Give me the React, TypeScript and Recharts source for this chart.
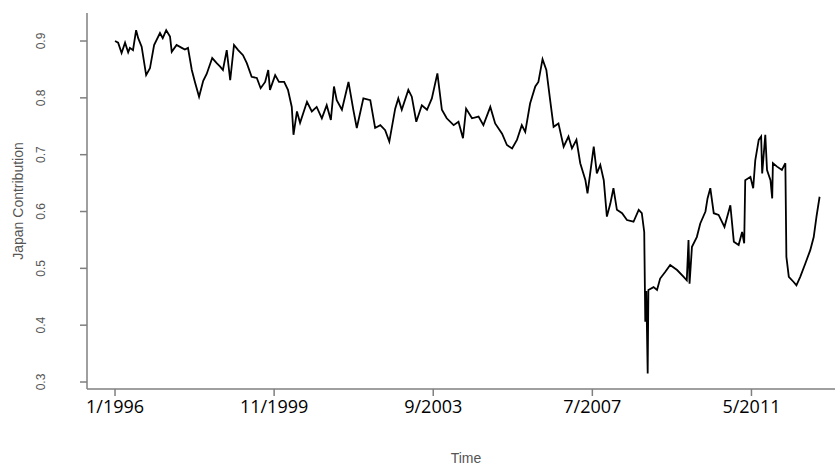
import React from "react";
import { LineChart, Line, XAxis, YAxis } from "recharts";

// months since 1/1996 (fractional) and the Japan contribution
const months = [
  0, 0.9, 1.9, 2.9, 3.8, 4.3, 5.2, 6.1, 6.7, 7.7, 9.0, 10.1, 11.3, 13.0, 13.8, 14.8, 15.9, 16.4, 17.8, 19.3,
  20.2, 21.1, 22.2, 23.1, 24.3, 25.5, 26.5, 28.1, 29.4, 30.4, 31.2, 32.3, 33.3, 34.4, 35.6, 37.0, 38.1, 39.5, 41.0, 42.1,
  43.4, 44.3, 44.8, 46.3, 47.4, 48.9, 50.0, 51.1, 51.6, 52.6, 53.5, 55.5, 56.9, 58.3, 59.8, 61.2, 62.4, 63.3, 64.1, 65.6,
  67.5, 68.9, 69.9, 71.8, 73.8, 75.2, 76.7, 78.1, 79.3, 81.0, 81.9, 82.9, 84.8, 85.8, 87.1, 88.7, 90.2, 91.6, 93.2, 94.5,
  95.9, 97.9, 99.3, 100.6, 101.5, 103.2, 105.1, 106.5, 108.5, 109.9, 111.9, 113.3, 114.8, 116.2, 117.6, 118.6, 120.0, 121.5, 122.4, 123.6,
  124.7, 125.8, 126.8, 128.2, 129.7, 131.1, 132.1, 133.4, 134.5, 136.0, 136.6, 138.4, 139.3, 140.3, 141.3, 142.2, 143.2, 144.1, 145.1, 146.6,
  148.0, 149.9, 151.4, 152.3, 153.0, 153.3, 153.6, 154.0, 154.2, 155.7, 156.7, 157.6, 159.1, 160.5, 162.5, 164.4, 165.3, 165.8, 166.1, 166.8,
  168.2, 169.2, 170.7, 171.3, 172.1, 173.1, 174.5, 176.2, 177.9, 178.9, 180.3, 181.3, 181.9, 182.2, 183.7, 184.5, 185.1, 186.1, 186.8, 187.1,
  188.0, 188.5, 189.5, 190.0, 190.2, 191.4, 192.8, 193.8, 194.1, 194.8, 196.2, 197.0, 198.1, 199.6, 201.0, 202.0, 202.8, 203.7,
];
const contribution = [
  0.900, 0.897, 0.879, 0.897, 0.880, 0.888, 0.884, 0.919, 0.905, 0.890, 0.840, 0.852, 0.893, 0.914, 0.905, 0.919, 0.908, 0.881, 0.893, 0.888,
  0.885, 0.888, 0.849, 0.828, 0.802, 0.830, 0.842, 0.870, 0.861, 0.855, 0.849, 0.884, 0.831, 0.893, 0.884, 0.875, 0.861, 0.837, 0.835, 0.817,
  0.828, 0.849, 0.814, 0.840, 0.828, 0.828, 0.814, 0.784, 0.735, 0.776, 0.756, 0.793, 0.776, 0.784, 0.764, 0.787, 0.761, 0.820, 0.796, 0.779,
  0.828, 0.779, 0.747, 0.799, 0.796, 0.747, 0.752, 0.743, 0.723, 0.781, 0.799, 0.779, 0.814, 0.802, 0.758, 0.787, 0.779, 0.799, 0.843, 0.779,
  0.764, 0.752, 0.758, 0.729, 0.781, 0.764, 0.767, 0.752, 0.784, 0.755, 0.737, 0.717, 0.711, 0.726, 0.752, 0.740, 0.790, 0.820, 0.828, 0.868,
  0.849, 0.796, 0.749, 0.755, 0.714, 0.732, 0.711, 0.726, 0.685, 0.655, 0.632, 0.714, 0.667, 0.682, 0.655, 0.591, 0.614, 0.641, 0.603, 0.597,
  0.585, 0.582, 0.603, 0.597, 0.564, 0.406, 0.460, 0.315, 0.462, 0.467, 0.462, 0.482, 0.494, 0.506, 0.497, 0.485, 0.479, 0.550, 0.473, 0.538,
  0.555, 0.579, 0.600, 0.623, 0.641, 0.597, 0.594, 0.573, 0.611, 0.547, 0.541, 0.564, 0.544, 0.655, 0.661, 0.641, 0.690, 0.726, 0.732, 0.667,
  0.735, 0.673, 0.655, 0.623, 0.685, 0.679, 0.673, 0.685, 0.520, 0.485, 0.476, 0.470, 0.485, 0.509, 0.532, 0.555, 0.591, 0.626,
];

const tickMonths = [0, 46, 92, 138, 184];
const tickLabels = ["1/1996", "11/1999", "9/2003", "7/2007", "5/2011"];
const yTicks = [0.3, 0.4, 0.5, 0.6, 0.7, 0.8, 0.9];

const data = months.map((t, i) => ({ t, v: contribution[i] }));

const frame = "#7f7f7f";

function XTick(props: any) {
  const { x, y, payload } = props;
  const i = tickMonths.indexOf(payload.value);
  return (
    <text x={x} y={y + 15} textAnchor="middle" fontFamily="'Open Sans', sans-serif" fontSize={18} fill="#000">
      {i >= 0 ? tickLabels[i] : payload.value}
    </text>
  );
}

function YTick(props: any) {
  const { y, payload } = props;
  const cx = 41;
  return (
    <text
      x={cx}
      y={y}
      transform={`rotate(-90, ${cx}, ${y})`}
      textAnchor="middle"
      dominantBaseline="central"
      fontFamily="'Liberation Sans', Arial, sans-serif"
      fontSize={12}
      fill="#555"
    >
      {payload.value.toFixed(1)}
    </text>
  );
}

export default function App() {
  return (
    <div style={{ position: "fixed", left: 0, top: 0, width: 835, height: 466, overflow: "hidden", background: "#fff" }}>
      <LineChart width={860} height={466} data={data} margin={{ top: 13, right: 11, bottom: 0, left: 0 }}>
        <XAxis
          dataKey="t"
          type="number"
          domain={[-8.1, 212.2]}
          ticks={tickMonths}
          allowDataOverflow
          height={77}
          tickSize={7}
          stroke={frame}
          strokeWidth={1.5}
          tick={<XTick />}
        />
        <XAxis
          xAxisId="top"
          dataKey="t"
          type="number"
          orientation="top"
          domain={[-8.1, 212.2]}
          height={0}
          tick={false}
          tickLine={false}
          stroke={frame}
          strokeWidth={1.5}
        />
        <YAxis
          type="number"
          domain={[0.2877, 0.9493]}
          ticks={yTicks}
          allowDataOverflow
          width={87}
          tickSize={7}
          stroke={frame}
          strokeWidth={1.5}
          tick={<YTick />}
        />
        <Line
          type="linear"
          dataKey="v"
          stroke="#000"
          strokeWidth={1.8}
          dot={false}
          isAnimationActive={false}
        />
      </LineChart>
      <div
        style={{
          position: "absolute",
          left: 18,
          top: 201,
          transform: "translate(-50%, -50%) rotate(-90deg)",
          whiteSpace: "nowrap",
          fontFamily: "'Liberation Sans', Arial, sans-serif",
          fontSize: 14,
          color: "#555",
        }}
      >
        Japan Contribution
      </div>
      <div
        style={{
          position: "absolute",
          left: 466,
          top: 458,
          transform: "translate(-50%, -50%)",
          whiteSpace: "nowrap",
          fontFamily: "'Liberation Sans', Arial, sans-serif",
          fontSize: 14,
          color: "#555",
        }}
      >
        Time
      </div>
    </div>
  );
}
